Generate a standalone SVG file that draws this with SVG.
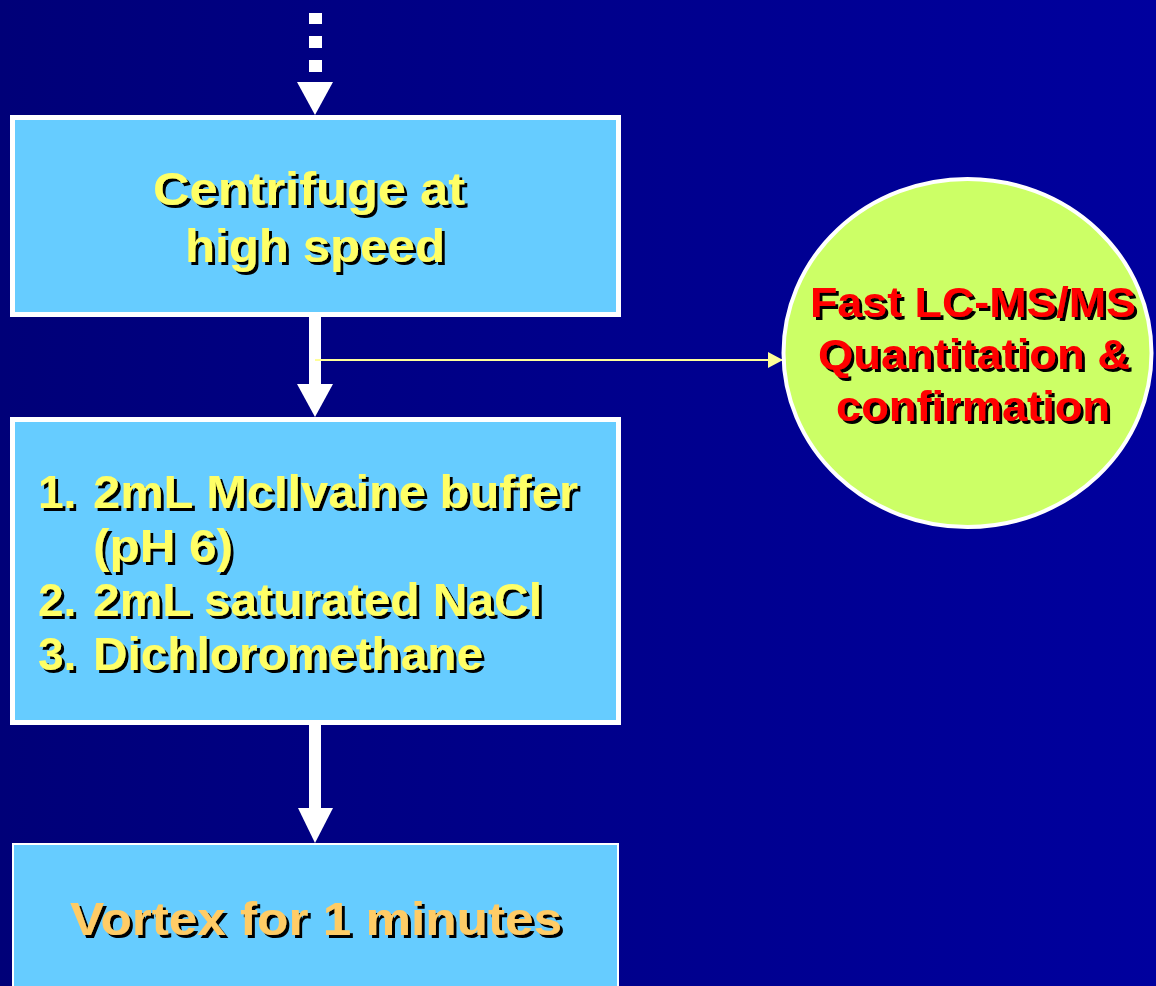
<svg xmlns="http://www.w3.org/2000/svg" width="1156" height="986" viewBox="0 0 1156 986">
  <defs>
    <linearGradient id="bg" x1="0" y1="0" x2="1" y2="0">
      <stop offset="0" stop-color="#000078"/>
      <stop offset="1" stop-color="#00009E"/>
    </linearGradient>
    <filter id="sh" x="-5%" y="-20%" width="115%" height="150%">
      <feFlood flood-color="#000000"/>
      <feComposite in2="SourceAlpha" operator="in"/>
      <feOffset dx="3" dy="3"/>
      <feMerge><feMergeNode/><feMergeNode in="SourceGraphic"/></feMerge>
    </filter>
    <marker id="ah" markerWidth="16" markerHeight="16" refX="15" refY="8" orient="auto" markerUnits="userSpaceOnUse">
      <path d="M0,0 L15,8 L0,16 Z" fill="#FFFF99"/>
    </marker>
    <style>
      .box { fill: #66CCFF; stroke: #FFFFFF; }
      .t { font-family: "Liberation Sans", Arial, sans-serif; font-weight: bold; font-size: 46px; filter: url(#sh); }
      .y { fill: #FFFF66; }
      .o { fill: #FFCC66; }
      .r { fill: #FF0000; font-size: 42px; }
      .white { fill: #FFFFFF; }
    </style>
  </defs>
  <rect x="0" y="0" width="1156" height="986" fill="url(#bg)"/>

  <g id="connectors">
    <rect class="white" x="309" y="13" width="13" height="11"/>
    <rect class="white" x="309" y="36" width="13" height="12"/>
    <rect class="white" x="309" y="60" width="13" height="12"/>
    <path class="white" d="M297,82 L333,82 L315,115 Z"/>
    <rect class="white" x="309" y="315" width="12" height="70"/>
    <path class="white" d="M297,384 L333,384 L315,417 Z"/>
    <rect class="white" x="309" y="723" width="12" height="86"/>
    <path class="white" d="M298,808 L333,808 L315,843 Z"/>
    <line x1="315" y1="360" x2="783" y2="360" stroke="#FFFF99" stroke-width="2" marker-end="url(#ah)"/>
  </g>

  <g id="centrifuge">
    <rect class="box" x="12.5" y="117.5" width="606" height="197" stroke-width="5"/>
    <text class="t y" x="309" y="205" text-anchor="middle" textLength="312" lengthAdjust="spacingAndGlyphs">Centrifuge at</text>
    <text class="t y" x="315" y="262" text-anchor="middle" textLength="260" lengthAdjust="spacingAndGlyphs">high speed</text>
  </g>

  <g id="reagents">
    <rect class="box" x="12.5" y="419.5" width="606" height="303" stroke-width="5"/>
    <text class="t y" x="38" y="508">1.</text>
    <text class="t y" x="93" y="508" textLength="485" lengthAdjust="spacingAndGlyphs">2mL McIlvaine buffer</text>
    <text class="t y" x="93" y="562" textLength="140" lengthAdjust="spacingAndGlyphs">(pH 6)</text>
    <text class="t y" x="38" y="616">2.</text>
    <text class="t y" x="93" y="616" textLength="449" lengthAdjust="spacingAndGlyphs">2mL saturated NaCl</text>
    <text class="t y" x="38" y="670">3.</text>
    <text class="t y" x="93" y="670" textLength="390" lengthAdjust="spacingAndGlyphs">Dichloromethane</text>
  </g>

  <g id="vortex">
    <rect class="box" x="13" y="844" width="605" height="150" stroke-width="2"/>
    <text class="t o" x="316" y="935" text-anchor="middle" textLength="492" lengthAdjust="spacingAndGlyphs">Vortex for 1 minutes</text>
  </g>

  <g id="lcms">
    <ellipse cx="967.5" cy="353" rx="184" ry="174" fill="#CCFF66" stroke="#FFFFFF" stroke-width="4"/>
    <text class="t r" x="973" y="317" text-anchor="middle" textLength="326" lengthAdjust="spacingAndGlyphs">Fast LC-MS/MS</text>
    <text class="t r" x="974" y="369" text-anchor="middle" textLength="312" lengthAdjust="spacingAndGlyphs">Quantitation &amp;</text>
    <text class="t r" x="973" y="421" text-anchor="middle" textLength="274" lengthAdjust="spacingAndGlyphs">confirmation</text>
  </g>
</svg>
